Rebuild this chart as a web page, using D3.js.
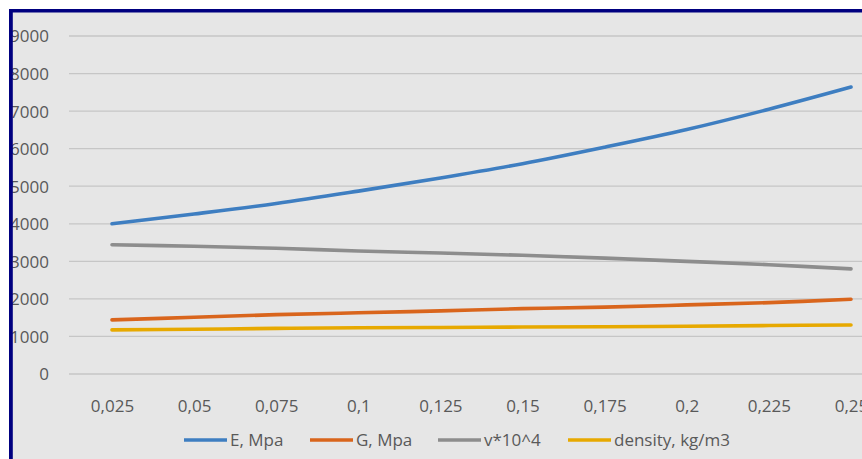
<!DOCTYPE html>
<html>
<head>
<meta charset="utf-8">
<script src="https://cdn.jsdelivr.net/npm/d3@7"></script>
<style>
  html, body { margin: 0; padding: 0; background: #ffffff; }
  svg { display: block; }
  text { font-family: "Open Sans", "Liberation Sans", sans-serif; }
</style>
</head>
<body>
<svg id="chart" width="862" height="459"></svg>
<script>
const categories = ["0,025", "0,05", "0,075", "0,1", "0,125", "0,15", "0,175", "0,2", "0,225", "0,25"];
const yTicks = [0, 1000, 2000, 3000, 4000, 5000, 6000, 7000, 8000, 9000];
const seriesNames = ["E, Mpa", "G, Mpa", "v*10^4", "density, kg/m3"];
const seriesColors = ["#3e7ec1", "#d9651c", "#8d8d8d", "#e7a900"];
const eValues = [4000, 4260, 4540, 4870, 5220, 5600, 6040, 6510, 7050, 7640];
const gValues = [1440, 1510, 1580, 1630, 1680, 1740, 1780, 1840, 1900, 1990];
const vValues = [3440, 3400, 3350, 3275, 3220, 3160, 3085, 3000, 2910, 2800];
const densityValues = [1175, 1190, 1215, 1230, 1240, 1250, 1260, 1270, 1290, 1305];

const seriesValues = [eValues, gValues, vValues, densityValues];

const svg = d3.select("#chart");
const W = 862, H = 459;

// chart background
svg.append("rect").attr("x", 9).attr("y", 9).attr("width", W - 9).attr("height", H - 9)
  .attr("fill", "#e6e6e6");

const x = d3.scalePoint().domain(categories).range([112, 851]);
const y = d3.scaleLinear().domain([0, 9000]).range([374, 36]);

const gridLeft = 69, gridRight = 893;

// gridlines
svg.append("g").selectAll("line").data(yTicks).join("line")
  .attr("x1", gridLeft).attr("x2", gridRight)
  .attr("y1", d => y(d)).attr("y2", d => y(d))
  .attr("stroke", "#c6c6c6").attr("stroke-width", 1.3);

// y axis labels
const yAxis = d3.axisLeft(y).tickValues(yTicks).tickSize(0).tickPadding(0).tickFormat(d3.format("d"));
const yg = svg.append("g").attr("transform", "translate(49,0)").call(yAxis);
yg.select(".domain").remove();
yg.selectAll("text").attr("fill", "#595959").attr("font-size", 17)
  .attr("font-family", "'Open Sans', sans-serif").attr("dy", "0.35em");

// x axis labels
const xAxis = d3.axisBottom(x).tickSize(0).tickPadding(0);
const xg = svg.append("g").attr("transform", "translate(0,403)").call(xAxis);
xg.select(".domain").remove();
xg.selectAll("text").attr("fill", "#595959").attr("font-size", 17)
  .attr("font-family", "'Open Sans', sans-serif").attr("dy", "0.5em");

// lines
const line = d3.line()
  .x((d, i) => x(categories[i]))
  .y(d => y(d))
  .curve(d3.curveCatmullRom.alpha(0.5));

svg.append("g").selectAll("path").data(seriesValues).join("path")
  .attr("d", d => line(d))
  .attr("fill", "none")
  .attr("stroke", (d, i) => seriesColors[i])
  .attr("stroke-width", 3.6)
  .attr("stroke-linecap", "round")
  .attr("stroke-linejoin", "round");

// legend
const legendX = [184, 310, 438, 568];
const legendY = 440;
const lg = svg.append("g");
seriesNames.forEach((name, i) => {
  lg.append("line")
    .attr("x1", legendX[i]).attr("x2", legendX[i] + 43)
    .attr("y1", legendY).attr("y2", legendY)
    .attr("stroke", seriesColors[i]).attr("stroke-width", 3.6);
  lg.append("text")
    .attr("x", legendX[i] + 46).attr("y", legendY)
    .attr("dy", "0.35em")
    .attr("fill", "#595959").attr("font-size", 17)
    .text(name);
});

// navy border (top and left), drawn over content
svg.append("rect").attr("x", 9).attr("y", 9).attr("width", W - 9).attr("height", 3.5).attr("fill", "#000080");
svg.append("rect").attr("x", 9).attr("y", 9).attr("width", 3.8).attr("height", H - 9).attr("fill", "#000080");
</script>
</body>
</html>
